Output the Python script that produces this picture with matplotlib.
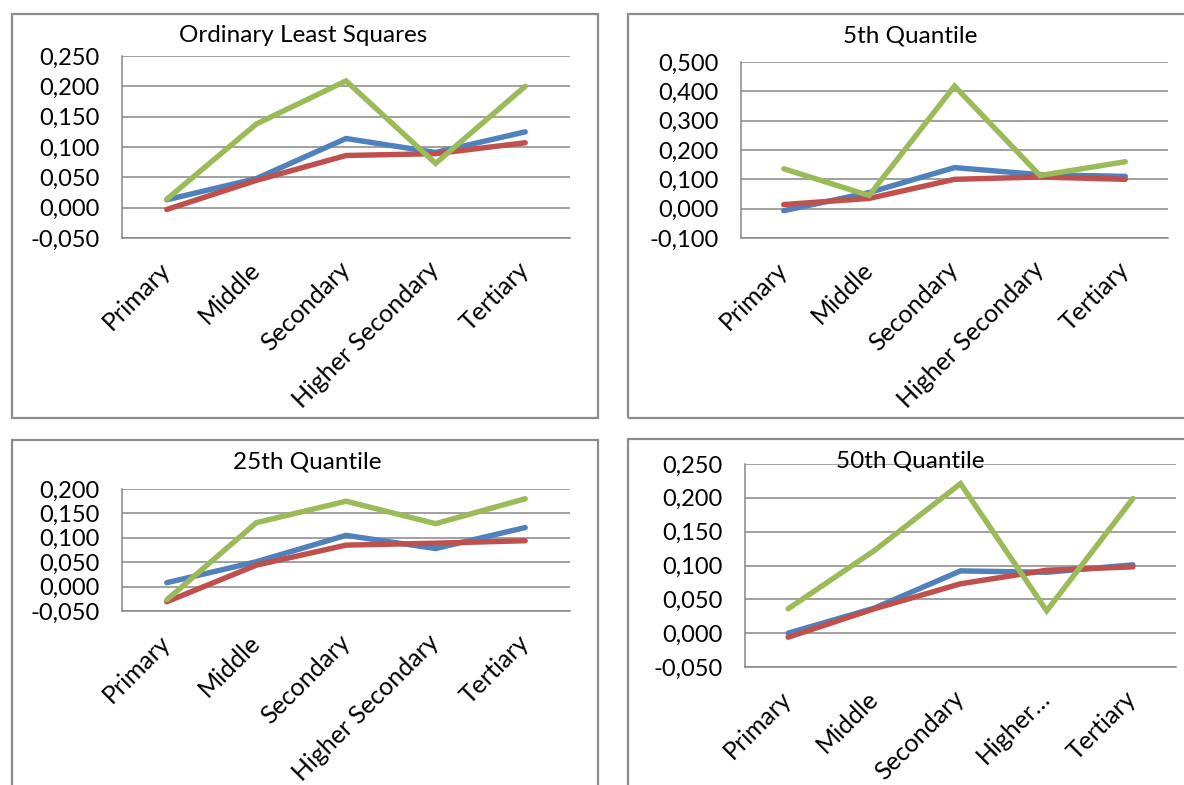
import matplotlib
matplotlib.use("Agg")
import matplotlib.pyplot as plt
from matplotlib.patches import Rectangle

plt.rcParams['font.family'] = ['Lato', 'DejaVu Sans']

W, H = 1184, 785

categories = ["Primary", "Middle", "Secondary", "Higher Secondary", "Tertiary"]
categories_short = ["Primary", "Middle", "Secondary", "Higher…", "Tertiary"]

# Ordinary Least Squares
ols_blue = [0.013, 0.048, 0.114, 0.091, 0.125]
ols_red = [-0.003, 0.045, 0.086, 0.089, 0.107]
ols_green = [0.014, 0.138, 0.209, 0.073, 0.200]

# 5th quantile
q05_blue = [-0.007, 0.055, 0.140, 0.116, 0.110]
q05_red = [0.014, 0.035, 0.100, 0.108, 0.100]
q05_green = [0.136, 0.045, 0.418, 0.113, 0.160]

# 25th quantile
q25_blue = [0.008, 0.051, 0.105, 0.078, 0.121]
q25_red = [-0.031, 0.044, 0.085, 0.089, 0.094]
q25_green = [-0.027, 0.131, 0.175, 0.129, 0.180]

# 50th quantile
q50_blue = [0.000, 0.037, 0.092, 0.090, 0.101]
q50_red = [-0.006, 0.036, 0.073, 0.093, 0.098]
q50_green = [0.036, 0.122, 0.221, 0.033, 0.199]

BLUE, RED, GREEN = "#4F81BD", "#C0504D", "#9BBB59"
GRID = "#868686"
BORDER = "#8C8C8C"

fig = plt.figure(figsize=(W / 100, H / 100), dpi=100)


def frac_rect(x0, y0, x1, y1):
    return [x0 / W, 1 - y1 / H, (x1 - x0) / W, (y1 - y0) / H]


def fmt(v):
    s = f"{abs(v):.3f}".replace(".", ",")
    return ("-" + s) if v < -1e-9 else s


def panel(box, plot, title, title_xy, ymin, ymax, step, labels, blue, red, green):
    bx0, by0, bx1, by1 = box
    fig.patches.append(Rectangle((bx0 / W, 1 - by1 / H), (bx1 - bx0) / W, (by1 - by0) / H,
                                 transform=fig.transFigure, fill=False,
                                 edgecolor=BORDER, linewidth=1.6, zorder=0))
    ax = fig.add_axes(frac_rect(*plot))
    x = list(range(len(labels)))
    for series, col in ((blue, BLUE), (red, RED), (green, GREEN)):
        ax.plot(x, series, color=col, linewidth=3.9, solid_capstyle="round",
                solid_joinstyle="miter", zorder=3)
    ax.set_xlim(-0.5, len(labels) - 0.5)
    ax.set_ylim(ymin, ymax)
    n = int(round((ymax - ymin) / step))
    ticks = [ymin + i * step for i in range(n + 1)]
    ax.set_yticks(ticks)
    ax.set_yticklabels([fmt(t) for t in ticks])
    ax.set_xticks(x)
    ax.set_xticklabels(labels, rotation=45, ha="right", va="center",
                       rotation_mode="anchor")
    ax.yaxis.grid(True, color=GRID, linewidth=1.1)
    ax.set_axisbelow(True)
    for s in ("top", "right"):
        ax.spines[s].set_visible(False)
    ax.spines["left"].set_color(GRID)
    ax.spines["left"].set_linewidth(1.1)
    ax.spines["bottom"].set_color(GRID)
    ax.spines["bottom"].set_linewidth(1.1)
    ax.tick_params(axis="y", length=0, pad=16, labelsize=17, colors="black")
    ax.tick_params(axis="x", length=0, pad=20, labelsize=18, colors="black")
    for lbl in ax.get_xticklabels():
        lbl.set_x(lbl.get_position()[0])
    ax.patch.set_alpha(0)
    fig.text(title_xy[0] / W, 1 - title_xy[1] / H, title, ha="center", va="center",
             fontsize=17.5, color="black")
    return ax


panel((11.5, 14, 598, 418), (122, 56, 570, 238), "Ordinary Least Squares", (303, 36),
      -0.05, 0.25, 0.05, categories, ols_blue, ols_red, ols_green)
panel((628, 14, 1200, 418), (741, 62, 1168, 238), "5th Quantile", (910, 36),
      -0.1, 0.5, 0.1, categories, q05_blue, q05_red, q05_green)
panel((11.5, 440, 598, 800), (122, 489, 570, 611), "25th Quantile", (307, 462),
      -0.05, 0.2, 0.05, categories, q25_blue, q25_red, q25_green)
panel((628, 439, 1200, 800), (745, 464, 1176, 667), "50th Quantile", (910, 461),
      -0.05, 0.25, 0.05, categories_short, q50_blue, q50_red, q50_green)

fig.savefig("out.png", dpi=100)
